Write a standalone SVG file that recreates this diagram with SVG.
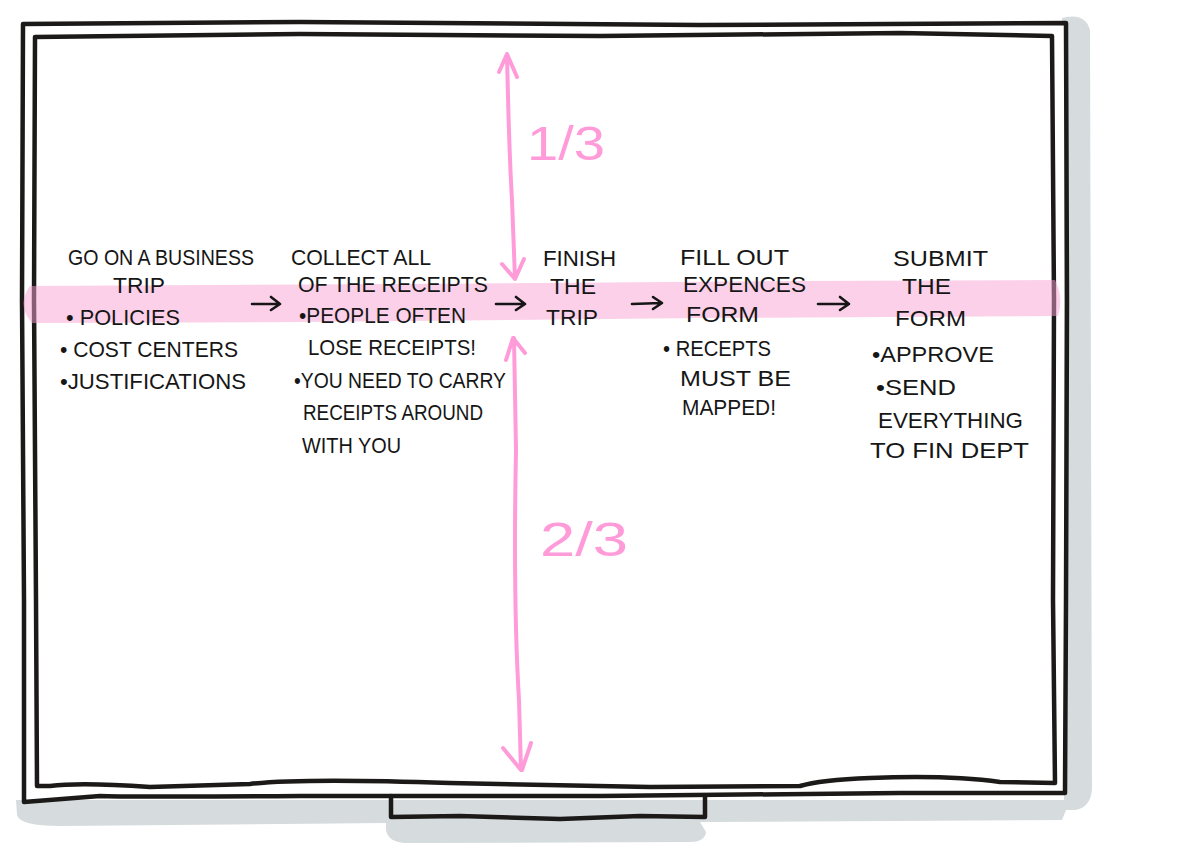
<svg xmlns="http://www.w3.org/2000/svg" width="1200" height="857" viewBox="0 0 1200 857">
<defs>
<style>
.frame{fill:none;stroke:#1b1a18;stroke-width:4.5;stroke-linecap:round;stroke-linejoin:round}
.shadow{fill:#d6dbdd}
.t{font-family:"Liberation Sans",Arial,sans-serif;font-size:22px;fill:#161616}
.pk{fill:none;stroke:#ff9bd9;stroke-width:4;stroke-linecap:round;stroke-linejoin:round}
.pkt{font-family:"Liberation Sans",Arial,sans-serif;font-size:48px;fill:#ff9bd9}
.ar{fill:none;stroke:#161616;stroke-width:2.6;stroke-linecap:round;stroke-linejoin:round}
</style>
</defs>
<rect width="1200" height="857" fill="#ffffff"/>
<g id="monitor">
<path class="shadow" d="M1062,18 Q1085,12 1090,30 L1092,790 Q1090,808 1075,810 L1066,810 L1062,820 L700,822 L706,832 Q705,842 690,842 L405,843 Q388,842 386,830 L386,823 L60,826 Q20,826 17,815 L16,800 L1062,800 Z"/>
<rect x="22" y="22" width="1042" height="778" fill="#ffffff"/>
<path class="frame" d="M23,24 L300,22 L700,25 L1066,23 L1067,300 L1066,600 L1065,793 L900,793 L600,796 L300,796 Q120,797 100,796 L24,802 L24,600 L22,300 Z"/>
<path class="frame" d="M35,37 L300,34 L600,36 L900,33 L1052,36 L1054,300 L1053,600 L1055,783 L1000,782 Q950,775 870,778 Q820,780 800,786 L650,787 L450,783 Q300,778 250,784 L150,787 Q80,782 50,786 L37,786 L36,600 L34,300 Z"/>
<path class="frame" d="M391,796 L391,817 L460,816 L560,819 L640,816 L705,817 L705,796"/>
</g>
<g id="band">
<path d="M30,286 L400,284 L800,281 L1055,280 Q1064,298 1058,316 L700,318 L300,322 L32,323 Q16,305 30,286 Z" fill="#f7a1d1" fill-opacity="0.5"/>
</g>
<g id="connectors">
<path class="ar" d="M252,304 L279,304 M271,297 L280,304 L271,310"/>
<path class="ar" d="M496,304 L524,304 M516,297 L525,304 L516,310"/>
<path class="ar" d="M632,304 L661,303 M653,297 L662,303 L653,309"/>
<path class="ar" d="M818,304 L848,304 M840,297 L849,304 L840,310"/>
<path class="pk" d="M507,54 Q509,150 512,200 L515,279 M499,72 L507,54 L517,77 M502,264 L515,279 L524,259"/>
<path class="pk" d="M514,338 L516,450 Q513,600 519,700 L521,770 M506,360 L513,338 L525,353 M503,748 L521,770 M531,743 L522,770"/>
<text class="pkt" x="527" y="160" textLength="78" lengthAdjust="spacingAndGlyphs">1/3</text>
<text class="pkt" x="540" y="556" textLength="88" lengthAdjust="spacingAndGlyphs">2/3</text>
</g>
<g id="step1">
<text class="t" x="68" y="265" textLength="186" lengthAdjust="spacingAndGlyphs">GO ON A BUSINESS</text>
<text class="t" x="113" y="293" textLength="52" lengthAdjust="spacingAndGlyphs">TRIP</text>
<text class="t" x="66" y="325" textLength="114" lengthAdjust="spacingAndGlyphs">• POLICIES</text>
<text class="t" x="60" y="357" textLength="178" lengthAdjust="spacingAndGlyphs">• COST CENTERS</text>
<text class="t" x="60" y="389" textLength="186" lengthAdjust="spacingAndGlyphs">•JUSTIFICATIONS</text>
</g>
<g id="step2">
<text class="t" x="291" y="265" textLength="140" lengthAdjust="spacingAndGlyphs">COLLECT ALL</text>
<text class="t" x="298" y="292" textLength="190" lengthAdjust="spacingAndGlyphs">OF THE RECEIPTS</text>
<text class="t" x="299" y="323" textLength="167" lengthAdjust="spacingAndGlyphs">•PEOPLE OFTEN</text>
<text class="t" x="308" y="355" textLength="168" lengthAdjust="spacingAndGlyphs">LOSE RECEIPTS!</text>
<text class="t" x="294" y="388" textLength="212" lengthAdjust="spacingAndGlyphs">•YOU NEED TO CARRY</text>
<text class="t" x="303" y="420" textLength="180" lengthAdjust="spacingAndGlyphs">RECEIPTS AROUND</text>
<text class="t" x="302" y="453" textLength="99" lengthAdjust="spacingAndGlyphs">WITH YOU</text>
</g>
<g id="step3">
<text class="t" x="543" y="266" textLength="73" lengthAdjust="spacingAndGlyphs">FINISH</text>
<text class="t" x="550" y="294" textLength="46" lengthAdjust="spacingAndGlyphs">THE</text>
<text class="t" x="546" y="325" textLength="52" lengthAdjust="spacingAndGlyphs">TRIP</text>
</g>
<g id="step4">
<text class="t" x="680" y="265" textLength="109" lengthAdjust="spacingAndGlyphs">FILL OUT</text>
<text class="t" x="683" y="292" textLength="123" lengthAdjust="spacingAndGlyphs">EXPENCES</text>
<text class="t" x="686" y="322" textLength="73" lengthAdjust="spacingAndGlyphs">FORM</text>
<text class="t" x="663" y="356" textLength="108" lengthAdjust="spacingAndGlyphs">• RECEPTS</text>
<text class="t" x="680" y="386" textLength="111" lengthAdjust="spacingAndGlyphs">MUST BE</text>
<text class="t" x="682" y="415" textLength="94" lengthAdjust="spacingAndGlyphs">MAPPED!</text>
</g>
<g id="step5">
<text class="t" x="893" y="266" textLength="95" lengthAdjust="spacingAndGlyphs">SUBMIT</text>
<text class="t" x="902" y="294" textLength="49" lengthAdjust="spacingAndGlyphs">THE</text>
<text class="t" x="895" y="326" textLength="71" lengthAdjust="spacingAndGlyphs">FORM</text>
<text class="t" x="872" y="362" textLength="122" lengthAdjust="spacingAndGlyphs">•APPROVE</text>
<text class="t" x="876" y="395" textLength="80" lengthAdjust="spacingAndGlyphs">•SEND</text>
<text class="t" x="878" y="428" textLength="145" lengthAdjust="spacingAndGlyphs">EVERYTHING</text>
<text class="t" x="870" y="458" textLength="159" lengthAdjust="spacingAndGlyphs">TO FIN DEPT</text>
</g>
</svg>
